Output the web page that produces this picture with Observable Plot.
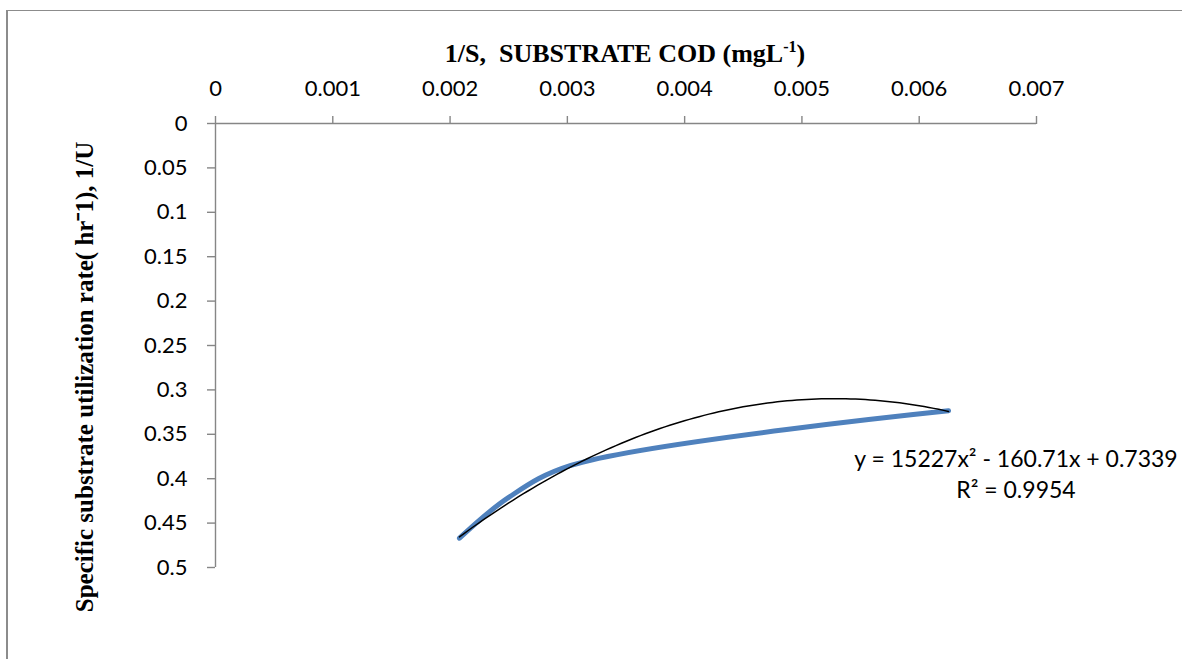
<!DOCTYPE html>
<html>
<head>
<meta charset="utf-8">
<script src="https://cdn.jsdelivr.net/npm/d3@7"></script>
<script src="https://cdn.jsdelivr.net/npm/@observablehq/plot@0.6"></script>
<style>
  html, body { margin: 0; padding: 0; background: #fff; overflow: hidden; }
  #wrap { position: relative; width: 1182px; height: 659px; }
  #border { position: absolute; left: 6px; top: 10px; width: 1200px; height: 700px; border-left: 2px solid #8c8c8c; border-top: 1.5px solid #8c8c8c; box-sizing: border-box; }
  #chart { position: absolute; left: 0; top: 0; }
</style>
</head>
<body>
<div id="wrap"><div id="border"></div><div id="chart"></div></div>
<script>
// Data
const invS = [0.00208, 0.0025, 0.00303, 0.00625];      // 1/S
const invU = [0.467, 0.421, 0.385, 0.3236];            // 1/U
const xTicks = [0, 0.001, 0.002, 0.003, 0.004, 0.005, 0.006, 0.007];
const yTicks = [0, 0.05, 0.1, 0.15, 0.2, 0.25, 0.3, 0.35, 0.4, 0.45, 0.5];
const trendCoef = [15227, -160.71, 0.7339];             // displayed polynomial trendline
const trendText = ["y = 15227x² - 160.71x + 0.7339", "R² = 0.9954"];

const pts = invS.map((x, i) => ({x, y: invU[i]}));
const xmin = d3.min(invS), xmax = d3.max(invS);
const trend = d3.range(0, 101).map(i => {
  const x = xmin + (xmax - xmin) * i / 100;
  return {x, y: trendCoef[0] * x * x + trendCoef[1] * x + trendCoef[2]};
});

const fmt = d => d === 0 ? "0" : String(+d.toFixed(4));
const axisColor = "#868686";
const font = "Lato, 'Open Sans', sans-serif";
const serif = "'Liberation Serif', 'Times New Roman', serif";

const plot = Plot.plot({
  width: 1182,
  height: 659,
  marginLeft: 215,
  marginRight: 146,
  marginTop: 123,
  marginBottom: 92,
  style: {fontFamily: font, fontSize: "22px", background: "transparent", color: "#000"},
  x: {domain: [0, 0.007]},
  y: {domain: [0, 0.5], reverse: true},
  marks: [
    Plot.ruleY([0], {stroke: axisColor, strokeWidth: 1.4}),
    Plot.ruleX([0], {stroke: axisColor, strokeWidth: 1.4}),
    Plot.axisX({anchor: "top", ticks: xTicks, tickFormat: fmt, tickSize: 8, tickPadding: 20, stroke: axisColor, strokeWidth: 1.4, fill: "#000", fontSize: 22, label: null}),
    Plot.axisY({anchor: "left", ticks: yTicks, tickFormat: fmt, tickSize: 8, tickPadding: 20, stroke: axisColor, strokeWidth: 1.4, fill: "#000", fontSize: 22, label: null}),
    Plot.line(pts, {x: "x", y: "y", stroke: "#4F81BD", strokeWidth: 5, curve: "catmull-rom", strokeLinecap: "round"}),
    Plot.line(trend, {x: "x", y: "y", stroke: "#000", strokeWidth: 1.5})
  ]
});
document.getElementById("chart").appendChild(plot);

const svg = d3.select(plot);
svg.style("overflow", "visible");
// X axis title
const xt = svg.append("text")
  .attr("x", 625).attr("y", 62)
  .attr("text-anchor", "middle")
  .style("font-family", serif)
  .style("font-weight", "bold").style("font-size", "26px").attr("fill", "#000");
xt.append("tspan").text("1/S,\u00A0\u00A0SUBSTRATE COD (mgL");
xt.append("tspan").attr("dy", -10).style("font-size", "16px").text("-1");
xt.append("tspan").attr("dy", 10).text(")");

// Y axis title
svg.append("text")
  .attr("transform", "translate(93,377) rotate(-90)")
  .attr("text-anchor", "middle")
  .style("font-family", serif)
  .style("font-weight", "bold").style("font-size", "25px").attr("fill", "#000")
  .text("Specific substrate utilization rate( hr\u207B1), 1/U");

// Trendline equation
svg.append("text")
  .attr("x", 1016).attr("y", 467).attr("text-anchor", "middle")
  .style("font-family", font).style("font-size", "23px").attr("fill", "#000")
  .text(trendText[0]);
svg.append("text")
  .attr("x", 1016).attr("y", 498).attr("text-anchor", "middle")
  .style("font-family", font).style("font-size", "23px").attr("fill", "#000")
  .text(trendText[1]);
</script>
</body>
</html>
